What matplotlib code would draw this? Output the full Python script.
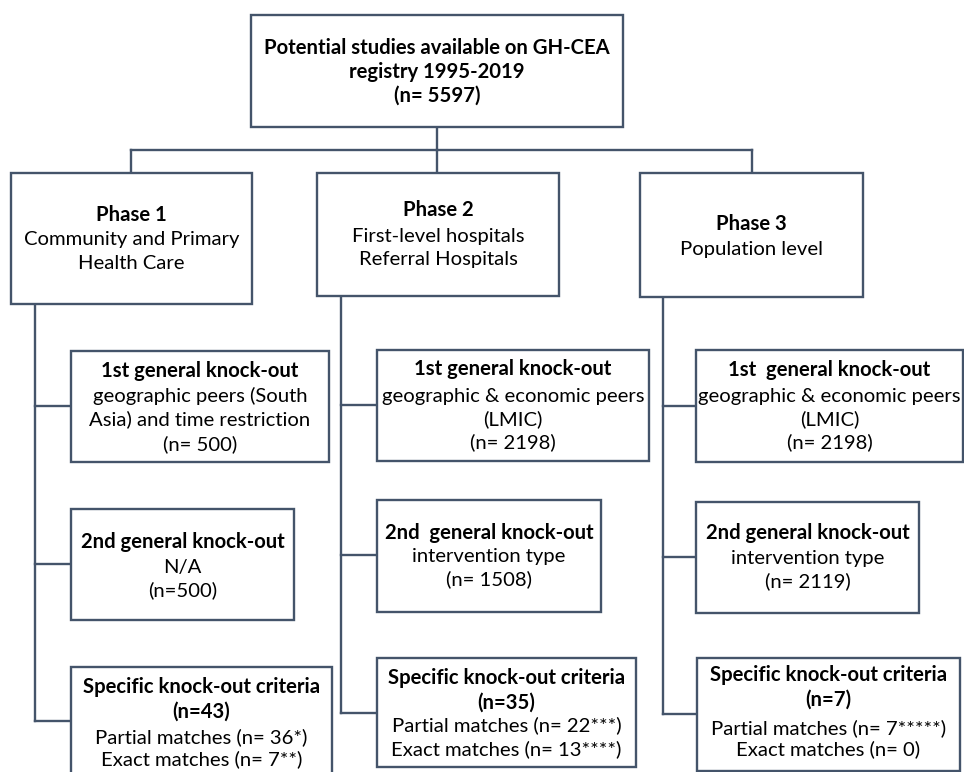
import matplotlib
matplotlib.use("Agg")
import matplotlib.pyplot as plt
from matplotlib.patches import Rectangle

plt.rcParams['font.family'] = ['Lato', 'DejaVu Sans']

# ---- content (text) ----
top_lines = ["Potential studies available on GH-CEA", "registry 1995-2019", "(n= 5597)"]
phase_titles = ["Phase 1", "Phase 2", "Phase 3"]
phase_desc = [["Community and Primary", "Health Care"],
              ["First-level hospitals", "Referral Hospitals"],
              ["Population level"]]
ko1_titles = ["1st general knock-out", "1st general knock-out", "1st  general knock-out"]
ko1_desc = [["geographic peers (South", "Asia) and time restriction", "(n= 500)"],
            ["geographic & economic peers", "(LMIC)", "(n= 2198)"],
            ["geographic & economic peers", "(LMIC)", "(n= 2198)"]]
ko2_titles = ["2nd general knock-out", "2nd  general knock-out", "2nd general knock-out"]
ko2_desc = [["N/A", "(n=500)"],
            ["intervention type", "(n= 1508)"],
            ["intervention type", "(n= 2119)"]]
spec_title = "Specific knock-out criteria"
spec_n = ["(n=43)", "(n=35)", "(n=7)"]
spec_desc = [["Partial matches (n= 36*)", "Exact matches (n= 7**)"],
             ["Partial matches (n= 22***)", "Exact matches (n= 13****)"],
             ["Partial matches (n= 7*****)", "Exact matches (n= 0)"]]

# ---- layout (pixel coordinates) ----
LC = "#44546A"
top_box = (251, 15, 623, 127)
top_y = [47, 71, 95]
phase_box = [(11, 173, 252, 304), (317, 173, 559, 296), (640, 173, 863, 297)]
phase_y = [[214, 238, 262], [209, 235, 258], [223, 248]]
ko1_box = [(71, 351, 329, 462), (377, 350, 649, 461), (696, 350, 963, 462)]
ko1_y = [[370, 395, 418, 443], [368, 395, 418, 441], [369, 395, 418, 441]]
ko2_box = [(71, 509, 294, 620), (377, 500, 601, 612), (696, 502, 919, 613)]
ko2_y = [[541, 566, 589], [532, 555, 578], [532, 557, 580]]
spec_box = [(71, 667, 332, 790), (377, 658, 636, 767), (697, 658, 960, 771)]
spec_y = [[686, 711, 736, 758], [677, 702, 724, 748], [674, 699, 727, 748]]
spine_x = [35, 341, 663]
branch_y = [[406, 564, 721], [405, 555, 713], [406, 557, 714]]
phase_top_x = [131, 437, 752]
bus_y = 150

W, H = 964, 772
fig = plt.figure(figsize=(W / 100, H / 100), dpi=100)
ax = fig.add_axes([0, 0, 1, 1])
ax.set_xlim(0, W)
ax.set_ylim(H, 0)
ax.axis('off')

FS = 14.6
LW = 1.7


def box(b):
    x0, y0, x1, y1 = b
    ax.add_patch(Rectangle((x0, y0), x1 - x0, y1 - y0, fill=True, fc='white',
                           ec=LC, lw=LW, zorder=2))


def line(xs, ys):
    ax.plot(xs, ys, color=LC, lw=LW, solid_capstyle='projecting', zorder=1)


def txt(x, yc, s, bold=False):
    ax.text(x, yc + 7, s, ha='center', va='baseline', fontsize=FS,
            fontweight='bold' if bold else 'normal', color='black', zorder=3)


def cx(b):
    return (b[0] + b[2]) / 2


# top box
box(top_box)
for s, y in zip(top_lines, top_y):
    txt(cx(top_box), y, s, bold=True)

# bus connectors
line([437, 437], [top_box[3], bus_y])
line([phase_top_x[0], phase_top_x[2]], [bus_y, bus_y])
for i in range(3):
    line([phase_top_x[i], phase_top_x[i]], [bus_y, phase_box[i][1]])

for i in range(3):
    # spine and branches
    line([spine_x[i], spine_x[i]], [phase_box[i][3], branch_y[i][2]])
    for by, bx in zip(branch_y[i], [ko1_box[i][0], ko2_box[i][0], spec_box[i][0]]):
        line([spine_x[i], bx], [by, by])

    box(phase_box[i])
    txt(cx(phase_box[i]), phase_y[i][0], phase_titles[i], bold=True)
    for s, y in zip(phase_desc[i], phase_y[i][1:]):
        txt(cx(phase_box[i]), y, s)

    box(ko1_box[i])
    txt(cx(ko1_box[i]), ko1_y[i][0], ko1_titles[i], bold=True)
    for s, y in zip(ko1_desc[i], ko1_y[i][1:]):
        txt(cx(ko1_box[i]), y, s)

    box(ko2_box[i])
    txt(cx(ko2_box[i]), ko2_y[i][0], ko2_titles[i], bold=True)
    for s, y in zip(ko2_desc[i], ko2_y[i][1:]):
        txt(cx(ko2_box[i]), y, s)

    box(spec_box[i])
    txt(cx(spec_box[i]), spec_y[i][0], spec_title, bold=True)
    txt(cx(spec_box[i]), spec_y[i][1], spec_n[i], bold=True)
    for s, y in zip(spec_desc[i], spec_y[i][2:]):
        txt(cx(spec_box[i]), y, s)

fig.savefig("out.png", dpi=100, facecolor='white')
